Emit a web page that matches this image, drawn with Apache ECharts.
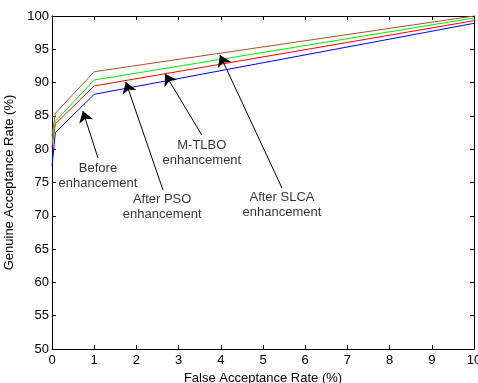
<!DOCTYPE html>
<html>
<head>
<meta charset="utf-8">
<script src="https://cdn.jsdelivr.net/npm/echarts@6/dist/echarts.min.js"></script>
<style>html,body{margin:0;padding:0;background:#fff}#c{width:478px;height:383px}</style>
</head>
<body>
<div id="c"></div>
<script>
// Data
const far = [0, 0.08, 1, 10];
const before = [77.5, 82.5, 88.24, 98.9];
const afterPSO = [80.3, 83.8, 89.5, 99.3];
const mtlbo = [81.0, 84.2, 90.39, 99.7];
const afterSLCA = [82.0, 85.4, 91.64, 100];
const xTicks = [0,1,2,3,4,5,6,7,8,9,10];

// Annotations: [tailX, tailY, tipX, tipY] and label positions (data units)
const annoText = ['Before\nenhancement', 'After PSO\nenhancement', 'M-TLBO\nenhancement', 'After SLCA\nenhancement'];
const annoLabelPos = [[1.09, 76.05], [2.61, 71.32], [3.55, 79.5], [5.45, 71.62]];
const annoArrows = [[1.09, 78.68, 0.73, 85.74], [2.63, 73.87, 1.75, 90.09], [3.55, 82.13, 2.68, 91.29], [5.45, 74.17, 3.98, 94.14]];

const FONT = 'Liberation Sans, Arial, sans-serif';
const zip = (xs, ys) => xs.map((x, i) => [x, ys[i]]);
const chart = echarts.init(document.getElementById('c'), null, {renderer: 'canvas'});

const axisCommon = {
  axisLine: {show: true, onZero: false, lineStyle: {color: '#000', width: 1}},
  axisTick: {show: true, inside: true, length: 4, lineStyle: {color: '#000'}},
  splitLine: {show: false},
};

function lineSeries(name, ys, color) {
  return {name, type: 'line', data: zip(far, ys), symbol: 'none', animation: false,
    lineStyle: {color, width: 1}, itemStyle: {color}, z: 3};
}

chart.setOption({
  animation: false,
  backgroundColor: '#fff',
  grid: {left: 52, right: 4, top: 16, bottom: 34, containLabel: false, outerBoundsMode: 'none'},
  xAxis: [
    Object.assign({type: 'value', min: 0, max: 10, interval: 1, position: 'bottom',
      name: 'False Acceptance Rate (%)', nameLocation: 'middle', nameGap: 20,
      nameTextStyle: {color: '#000', fontSize: 13, fontFamily: FONT},
      axisLabel: {color: '#000', fontSize: 13, fontFamily: FONT, margin: 5,
        formatter: v => xTicks.includes(v) ? String(v) : ''}}, axisCommon),
    Object.assign({type: 'value', min: 0, max: 10, interval: 1, position: 'top',
      axisLabel: {show: false}}, axisCommon)
  ],
  yAxis: [
    Object.assign({type: 'value', min: 50, max: 100, interval: 5, position: 'left',
      name: 'Genuine Acceptance Rate (%)', nameLocation: 'middle', nameGap: 30,
      nameTextStyle: {color: '#000', fontSize: 13, fontFamily: FONT},
      axisLabel: {color: '#000', fontSize: 13, fontFamily: FONT, margin: 3}}, axisCommon),
    Object.assign({type: 'value', min: 50, max: 100, interval: 5, position: 'right',
      axisLabel: {show: false}}, axisCommon)
  ],
  series: [
    lineSeries('Before enhancement', before, '#0000ff'),
    lineSeries('After PSO enhancement', afterPSO, '#ff0000'),
    lineSeries('M-TLBO enhancement', mtlbo, '#00ee00'),
    lineSeries('After SLCA enhancement', afterSLCA, '#a5522a'),
    {
      type: 'lines', coordinateSystem: 'cartesian2d', animation: false, z: 5,
      symbol: ['none', 'arrow'], symbolSize: [7, 11],
      lineStyle: {color: '#000', width: 1, opacity: 1},
      data: annoArrows.map(a => ({coords: [[a[0], a[1]], [a[2], a[3]]]}))
    },
    {
      type: 'scatter', symbolSize: 0, animation: false, silent: true, z: 6,
      data: annoLabelPos.map((p, i) => ({value: p, name: annoText[i]})),
      label: {show: true, position: 'inside', formatter: p => p.name,
        color: '#000', fontSize: 13, fontFamily: FONT, lineHeight: 15, align: 'center',
        backgroundColor: '#fff'}
    }
  ]
});
</script>
</body>
</html>
